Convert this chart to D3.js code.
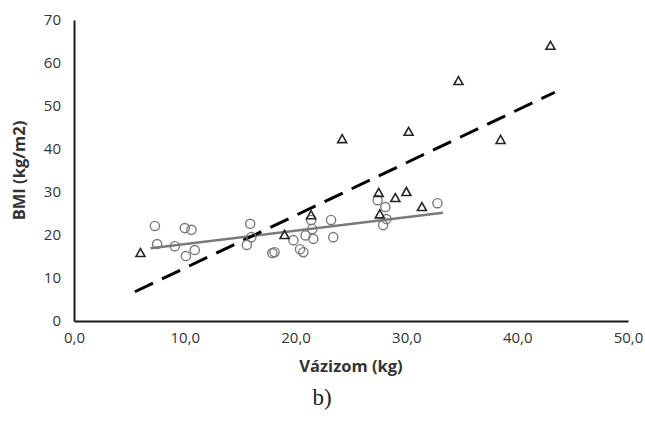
<!DOCTYPE html>
<html>
<head>
<meta charset="utf-8">
<script src="https://cdn.jsdelivr.net/npm/d3@7"></script>
<style>
  body { margin: 0; background: #fff; }
  svg text { font-family: "Open Sans", Lato, sans-serif; }
</style>
</head>
<body>
<div id="chart"></div>
<script>
// circles group: [vázizom kg, BMI]
const circleData = [
  [7.3, 22.1], [7.5, 17.9], [9.1, 17.4], [10.0, 21.6], [10.6, 21.2], [10.1, 15.1],
  [10.9, 16.5], [15.9, 22.6], [15.6, 17.7], [16.0, 19.5], [17.9, 15.8], [18.1, 16.0],
  [19.8, 18.8], [20.4, 16.7], [20.7, 16.0], [20.9, 19.9], [21.4, 23.5], [21.5, 21.4],
  [21.6, 19.1], [23.2, 23.5], [23.4, 19.5], [27.4, 28.1], [28.1, 26.5], [28.2, 23.7],
  [27.9, 22.3], [32.8, 27.4]
];
// triangles group
const triangleData = [
  [6.0, 15.8], [19.0, 20.0], [21.4, 24.6], [24.2, 42.3], [27.5, 29.8], [27.6, 24.8],
  [29.0, 28.6], [30.0, 30.0], [30.2, 44.0], [31.4, 26.5], [34.7, 55.8], [38.5, 42.1],
  [43.0, 64.0]
];
// trendline end points
const circleTrend = [[6.9, 16.9], [33.3, 25.2]];
const triangleTrend = [[5.5, 6.8], [43.4, 53.2]];

const xTicks = [0, 10, 20, 30, 40, 50];
const yTicks = [0, 10, 20, 30, 40, 50, 60, 70];

const margin = { top: 20, right: 17, bottom: 101, left: 74 };
const W = 645, H = 422;
const width = W - margin.left - margin.right;
const height = H - margin.top - margin.bottom;

const svg = d3.select("#chart").append("svg")
    .attr("width", W)
    .attr("height", H);

const g = svg.append("g")
    .attr("transform", `translate(${margin.left},${margin.top})`);

const x = d3.scaleLinear().domain([0, 50]).range([0, width]);
const y = d3.scaleLinear().domain([0, 70]).range([height, 0]);

// axes
const xAxis = g.append("g")
    .attr("transform", `translate(0,${height})`)
    .call(d3.axisBottom(x).tickValues(xTicks).tickSize(0).tickPadding(11)
      .tickFormat(d => d3.format(".1f")(d).replace(".", ",")));
const yAxis = g.append("g")
    .call(d3.axisLeft(y).tickValues(yTicks).tickSize(0).tickPadding(13));

[xAxis, yAxis].forEach(a => {
  a.select(".domain").attr("stroke", "#1a1a1a").attr("stroke-width", 2);
  a.selectAll("text").attr("fill", "#333").style("font-size", "15px")
    .style("font-family", "'Open Sans', sans-serif");
});

// trendlines
const line = d3.line().x(d => x(d[0])).y(d => y(d[1]));

g.append("path")
    .datum(circleTrend)
    .attr("fill", "none")
    .attr("stroke", "#7a7a7a")
    .attr("stroke-width", 2.5)
    .attr("d", line);

g.append("path")
    .datum(triangleTrend)
    .attr("fill", "none")
    .attr("stroke", "#000")
    .attr("stroke-width", 3)
    .attr("stroke-dasharray", "20,10")
    .attr("d", line);

// markers
g.selectAll(".circ")
  .data(circleData)
  .join("circle")
    .attr("class", "circ")
    .attr("cx", d => x(d[0]))
    .attr("cy", d => y(d[1]))
    .attr("r", 4.6)
    .attr("fill", "none")
    .attr("stroke", "#7a7a7a")
    .attr("stroke-width", 1.4);

const tri = "M0,-4.5L4.5,3.5L-4.5,3.5Z";
g.selectAll(".tri")
  .data(triangleData)
  .join("path")
    .attr("class", "tri")
    .attr("transform", d => `translate(${x(d[0])},${y(d[1])})`)
    .attr("d", tri)
    .attr("fill", "none")
    .attr("stroke", "#262626")
    .attr("stroke-width", 1.6);

// titles
svg.append("text")
    .attr("x", margin.left + width / 2)
    .attr("y", 372)
    .attr("text-anchor", "middle")
    .style("font-size", "16.5px")
    .style("font-weight", "bold")
    .attr("fill", "#333")
    .text("Vázizom (kg)");

svg.append("text")
    .attr("transform", `translate(25,${margin.top + height / 2}) rotate(-90)`)
    .attr("text-anchor", "middle")
    .style("font-size", "16.5px")
    .style("font-weight", "bold")
    .attr("fill", "#333")
    .text("BMI (kg/m2)");

svg.append("text")
    .attr("x", 322)
    .attr("y", 405)
    .attr("text-anchor", "middle")
    .style("font-family", "'Liberation Serif', 'DejaVu Serif', serif")
    .style("font-size", "23px")
    .attr("fill", "#222")
    .text("b)");
</script>
</body>
</html>
